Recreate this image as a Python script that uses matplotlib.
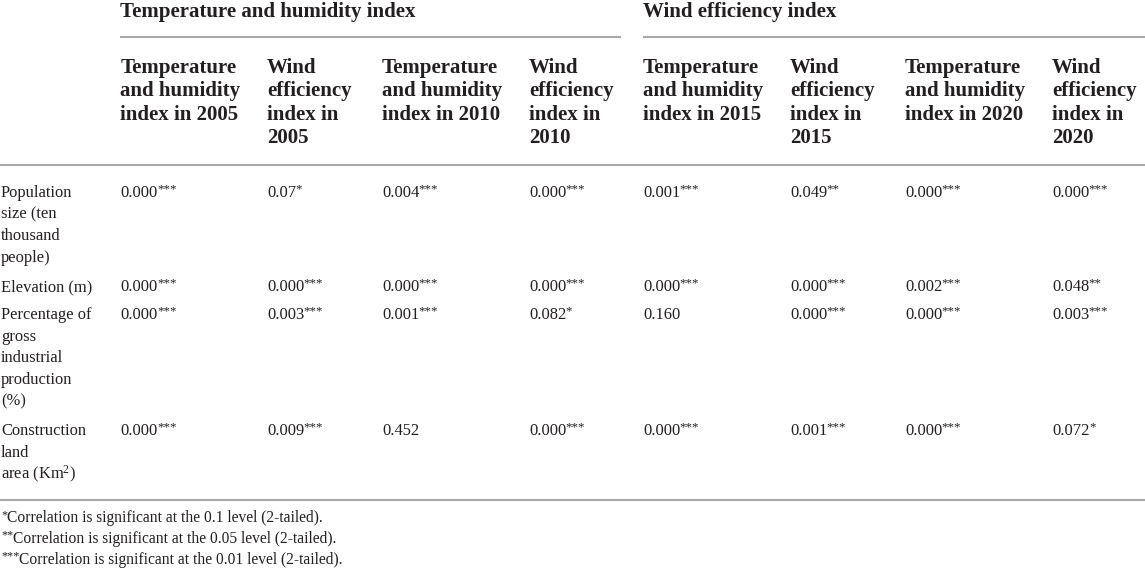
import matplotlib
matplotlib.use("Agg")
import matplotlib.pyplot as plt

# ---------------- data ----------------
group_headers = ["Temperature and humidity index", "Wind efficiency index"]
column_headers = [
    ["Temperature", "and humidity", "index in 2005"],
    ["Wind", "efficiency", "index in", "2005"],
    ["Temperature", "and humidity", "index in 2010"],
    ["Wind", "efficiency", "index in", "2010"],
    ["Temperature", "and humidity", "index in 2015"],
    ["Wind", "efficiency", "index in", "2015"],
    ["Temperature", "and humidity", "index in 2020"],
    ["Wind", "efficiency", "index in", "2020"],
]
row_labels = [
    ["Population", "size (ten", "thousand", "people)"],
    ["Elevation (m)"],
    ["Percentage of", "gross", "industrial", "production", "(%)"],
    ["Construction", "land", "area (Km$^{2}$)"],
]
values = [
    ["0.000", "0.07", "0.004", "0.000", "0.001", "0.049", "0.000", "0.000"],
    ["0.000", "0.000", "0.000", "0.000", "0.000", "0.000", "0.002", "0.048"],
    ["0.000", "0.003", "0.001", "0.082", "0.160", "0.000", "0.000", "0.003"],
    ["0.000", "0.009", "0.452", "0.000", "0.000", "0.001", "0.000", "0.072"],
]
stars = [
    ["***", "*", "***", "***", "***", "**", "***", "***"],
    ["***", "***", "***", "***", "***", "***", "***", "**"],
    ["***", "***", "***", "*", "", "***", "***", "***"],
    ["***", "***", "", "***", "***", "***", "***", "*"],
]
footnotes = [
    ("*", "Correlation is significant at the 0.1 level (2-tailed)."),
    ("**", "Correlation is significant at the 0.05 level (2-tailed)."),
    ("***", "Correlation is significant at the 0.01 level (2-tailed)."),
]

# ---------------- layout ----------------
W, H = 1145, 568
col_x = [120.5, 267, 382, 529, 643, 790, 905, 1052]
group_x = [(120, 621), (643, 1145)]
row_y = [193, 287, 315, 431]
TEXT = "#231f20"
LINE = "#a8a8a8"
FONT = "Liberation Serif"
HEAD_SIZE = 15.0
BODY_SIZE = 11.9
NOTE_SIZE = 11.2

plt.rcParams["mathtext.fontset"] = "custom"
plt.rcParams["mathtext.rm"] = FONT
plt.rcParams["mathtext.it"] = FONT + ":italic"
plt.rcParams["mathtext.bf"] = FONT + ":bold"

fig = plt.figure(figsize=(W / 100, H / 100), dpi=100)
ax = fig.add_axes([0, 0, 1, 1])
ax.set_xlim(0, W)
ax.set_ylim(H, 0)
ax.axis("off")

# group headers
for (x0, x1), g in zip(group_x, group_headers):
    ax.text(x0, 12, g, fontsize=HEAD_SIZE, fontweight="bold", family=FONT,
            color=TEXT, va="center", ha="left")
    ax.plot([x0, x1], [37, 37], color=LINE, lw=1.5, solid_capstyle="butt")

# column headers
for x, lines in zip(col_x, column_headers):
    for i, t in enumerate(lines):
        ax.text(x, 68 + i * 23.4, t, fontsize=HEAD_SIZE, fontweight="bold",
                family=FONT, color=TEXT, va="center", ha="left")

ax.plot([0, W], [165, 165], color=LINE, lw=1.5, solid_capstyle="butt")
ax.plot([0, W], [500, 500], color=LINE, lw=1.5, solid_capstyle="butt")

fig.canvas.draw()
renderer = fig.canvas.get_renderer()
inv = ax.transData.inverted()

def value_with_stars(x, y, num, st, size):
    t = ax.text(x, y, num, fontsize=size, family=FONT, color=TEXT,
                va="center", ha="left")
    if st:
        bb = t.get_window_extent(renderer)
        xr, _ = inv.transform((bb.x1, bb.y0))
        ax.text(xr - 0.5, y - 3.5, st, fontsize=size * 0.78, family=FONT,
                color=TEXT, va="center", ha="left")

# body rows
for r, (lab, y0) in enumerate(zip(row_labels, row_y)):
    for i, t in enumerate(lab):
        ax.text(1, y0 + i * 21.6, t, fontsize=BODY_SIZE, family=FONT,
                color=TEXT, va="center", ha="left")
    for c, x in enumerate(col_x):
        value_with_stars(x, y0, values[r][c], stars[r][c], BODY_SIZE)

# footnotes
for i, (st, txt) in enumerate(footnotes):
    y = 518 + i * 20.8
    s = ax.text(1, y - 3, st, fontsize=NOTE_SIZE * 0.78, family=FONT,
                color=TEXT, va="center", ha="left")
    bb = s.get_window_extent(renderer)
    xr, _ = inv.transform((bb.x1, bb.y0))
    ax.text(xr - 0.3, y, txt, fontsize=NOTE_SIZE, family=FONT, color=TEXT,
            va="center", ha="left")

fig.savefig("out.png", dpi=100, facecolor="white")
